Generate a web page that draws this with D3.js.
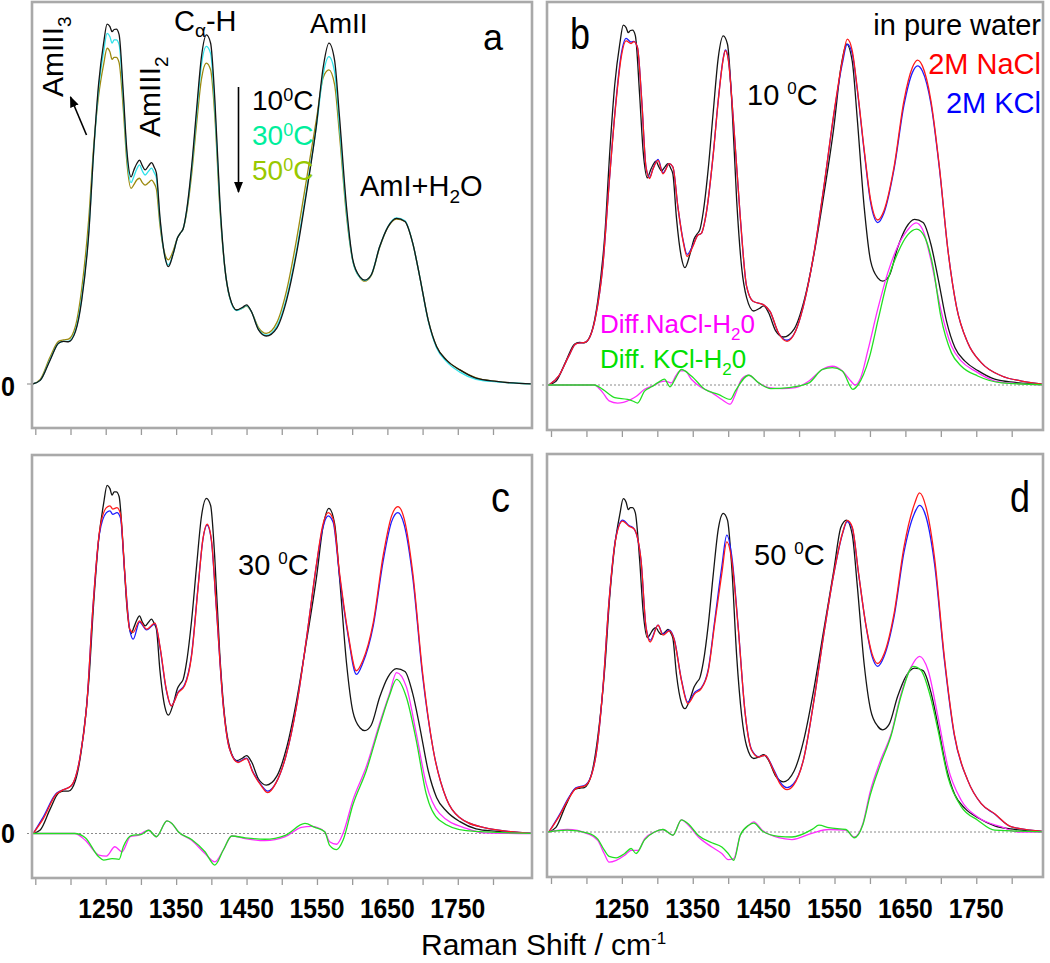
<!DOCTYPE html>
<html><head><meta charset="utf-8">
<script src="https://cdn.jsdelivr.net/npm/d3@7"></script>
<style>body{margin:0;background:#fff}svg{display:block}text{font-family:"Liberation Sans",Arial,sans-serif}</style>
</head><body><svg id="chart" width="1050" height="963"></svg>
<script>
// ---------- data ----------
const tickValues = [1150,1200,1250,1300,1350,1400,1450,1500,1550,1600,1650,1700,1750,1800];
const tickLabels = [1250,1350,1450,1550,1650,1750];

const waterWn = [1146,1157,1171,1183,1190,1197,1207,1216,1226,1233,
1240,1247,1252,1256,1259,1262,1265,1269,1275,1280,
1286,1290,1294,1298,1302,1306,1311,1315,1319,1322,
1327,1334,1339,1346,1352,1356,1360,1365,1372,1379,
1386,1393,1399,1405,1412,1419,1426,1436,1444,1450,
1457,1467,1478,1493,1507,1521,1535,1549,1559,1567,
1575,1582,1592,1601,1611,1618,1627,1639,1651,1663,
1675,1686,1696,1708,1720,1734,1753,1776,1805,1858];

const water10 = [0,0.01,0.066,0.113,0.118,0.117,0.145,0.233,0.418,0.648,
0.833,0.944,0.997,0.990,0.976,0.982,0.983,0.968,0.805,0.648,
0.574,0.593,0.610,0.620,0.605,0.593,0.605,0.613,0.600,0.584,
0.463,0.353,0.325,0.362,0.405,0.418,0.430,0.482,0.602,0.759,
0.907,0.967,0.944,0.787,0.510,0.325,0.242,0.205,0.212,0.219,
0.200,0.150,0.133,0.155,0.233,0.362,0.528,0.713,0.879,0.944,
0.897,0.740,0.490,0.343,0.297,0.288,0.302,0.380,0.436,0.459,
0.450,0.390,0.297,0.177,0.103,0.066,0.039,0.016,0.007,0];

const water30 = [0,0.01,0.068,0.113,0.118,0.118,0.148,0.24,0.425,0.645,
0.82,0.92,0.971,0.962,0.944,0.953,0.953,0.94,0.79,0.635,
0.558,0.575,0.595,0.607,0.59,0.579,0.59,0.598,0.585,0.57,
0.455,0.353,0.33,0.362,0.405,0.418,0.43,0.48,0.595,0.745,
0.885,0.935,0.915,0.765,0.5,0.325,0.24,0.203,0.21,0.217,
0.2,0.152,0.135,0.16,0.24,0.37,0.535,0.71,0.86,0.907,
0.865,0.715,0.475,0.34,0.295,0.287,0.302,0.38,0.437,0.46,
0.452,0.39,0.297,0.175,0.1,0.062,0.033,0.013,0.006,0];

const water50 = [0,0.013,0.075,0.118,0.122,0.124,0.16,0.265,0.46,0.66,
0.8,0.885,0.93,0.92,0.899,0.905,0.905,0.89,0.76,0.615,
0.542,0.552,0.565,0.57,0.558,0.551,0.558,0.565,0.555,0.54,
0.44,0.36,0.344,0.37,0.405,0.418,0.43,0.475,0.58,0.72,
0.845,0.889,0.87,0.74,0.49,0.325,0.24,0.205,0.21,0.216,
0.2,0.156,0.14,0.17,0.26,0.4,0.565,0.73,0.85,0.87,
0.83,0.69,0.465,0.34,0.295,0.285,0.3,0.378,0.435,0.457,
0.45,0.39,0.297,0.177,0.103,0.066,0.039,0.017,0.007,0];

// 10 C salt spectra [wavenumber, intensity]
const nacl10 = [[1147,0],[1161,0.025],[1175,0.08],[1185,0.114],[1199,0.119],[1213,0.19],[1223,0.328],[1232,0.558],[1241,0.769],[1249,0.907],[1256,0.953],[1263,0.946],[1267,0.951],[1272,0.935],[1278,0.788],[1284,0.604],[1289,0.572],[1294,0.599],[1301,0.622],[1308,0.585],[1317,0.613],[1322,0.604],[1329,0.494],[1336,0.402],[1342,0.356],[1350,0.383],[1357,0.415],[1362,0.42],[1369,0.475],[1379,0.641],[1386,0.788],[1393,0.903],[1396,0.926],[1400,0.903],[1407,0.742],[1417,0.466],[1426,0.273],[1435,0.232],[1450,0.222],[1459,0.204],[1471,0.144],[1483,0.121],[1495,0.149],[1506,0.218],[1521,0.365],[1535,0.549],[1549,0.751],[1561,0.898],[1568,0.958],[1575,0.926],[1582,0.824],[1592,0.65],[1601,0.512],[1611,0.457],[1620,0.484],[1634,0.604],[1648,0.788],[1660,0.88],[1667,0.9],[1674,0.884],[1686,0.788],[1698,0.604],[1710,0.374],[1722,0.218],[1738,0.117],[1757,0.062],[1786,0.025],[1814,0.011],[1858,0]];
const kcl10 = [[1147,0],[1161,0.025],[1175,0.08],[1185,0.114],[1199,0.119],[1213,0.19],[1223,0.328],[1232,0.558],[1241,0.772],[1249,0.915],[1256,0.96],[1263,0.95],[1267,0.952],[1272,0.935],[1278,0.79],[1284,0.604],[1289,0.575],[1294,0.6],[1301,0.625],[1308,0.588],[1317,0.613],[1322,0.604],[1329,0.494],[1336,0.405],[1342,0.362],[1350,0.386],[1357,0.415],[1362,0.42],[1369,0.475],[1379,0.641],[1386,0.79],[1393,0.905],[1396,0.928],[1400,0.905],[1407,0.742],[1417,0.466],[1426,0.273],[1435,0.232],[1450,0.222],[1459,0.204],[1471,0.144],[1483,0.124],[1495,0.149],[1506,0.218],[1521,0.365],[1535,0.549],[1549,0.748],[1561,0.89],[1568,0.944],[1575,0.918],[1582,0.82],[1592,0.645],[1601,0.505],[1611,0.45],[1620,0.478],[1634,0.598],[1648,0.775],[1660,0.866],[1667,0.884],[1674,0.87],[1686,0.78],[1698,0.6],[1710,0.374],[1722,0.218],[1738,0.117],[1757,0.062],[1786,0.025],[1814,0.011],[1858,0]];
const diffNacl10 = [[1145,0],[1173,0],[1211,0],[1223,-0.021],[1232,-0.044],[1244,-0.05],[1252,-0.048],[1258,-0.044],[1263,-0.04],[1270,-0.032],[1282,-0.012],[1296,0],[1304,0.008],[1310,0.011],[1320,0.006],[1326,0.025],[1332,0.039],[1339,0.039],[1348,0.016],[1362,-0.007],[1377,-0.021],[1391,-0.04],[1403,-0.053],[1410,-0.026],[1419,0.016],[1429,0.027],[1443,0.006],[1457,-0.007],[1476,-0.01],[1495,-0.007],[1514,0.011],[1533,0.043],[1547,0.052],[1561,0.039],[1573,0.011],[1579,0],[1587,0.02],[1597,0.095],[1611,0.21],[1625,0.31],[1639,0.383],[1653,0.429],[1665,0.449],[1674,0.432],[1686,0.346],[1700,0.209],[1715,0.108],[1729,0.066],[1748,0.039],[1776,0.011],[1800,0.005],[1858,0]];
const diffKcl10 = [[1145,0],[1211,0],[1223,-0.012],[1240,-0.035],[1258,-0.04],[1266,-0.045],[1272,-0.05],[1282,-0.017],[1292,-0.005],[1302,0.008],[1310,0.016],[1318,-0.005],[1326,0.02],[1334,0.043],[1348,0.025],[1367,-0.012],[1386,-0.026],[1403,-0.04],[1410,-0.017],[1429,0.027],[1443,0.006],[1460,-0.01],[1486,-0.007],[1514,0.006],[1533,0.043],[1547,0.048],[1561,0.039],[1576,-0.012],[1583,0],[1599,0.075],[1612,0.185],[1625,0.291],[1639,0.365],[1653,0.415],[1666,0.432],[1677,0.411],[1689,0.328],[1700,0.19],[1715,0.089],[1729,0.052],[1752,0.025],[1786,0.006],[1858,0]];

// 30 C
const nacl30 = [[1147,0],[1161,0.04],[1180,0.11],[1187,0.119],[1201,0.133],[1213,0.207],[1223,0.356],[1232,0.635],[1241,0.84],[1251,0.909],[1256,0.914],[1260,0.905],[1266,0.909],[1271,0.891],[1277,0.728],[1284,0.57],[1289,0.561],[1298,0.593],[1308,0.57],[1320,0.587],[1327,0.523],[1336,0.403],[1343,0.356],[1353,0.393],[1362,0.412],[1372,0.496],[1381,0.682],[1388,0.821],[1394,0.863],[1400,0.821],[1407,0.635],[1417,0.356],[1426,0.235],[1438,0.198],[1450,0.209],[1459,0.17],[1471,0.133],[1480,0.114],[1492,0.142],[1506,0.217],[1521,0.356],[1535,0.542],[1549,0.747],[1558,0.858],[1566,0.895],[1573,0.877],[1582,0.728],[1594,0.561],[1606,0.454],[1615,0.482],[1630,0.589],[1644,0.775],[1656,0.886],[1665,0.912],[1674,0.877],[1686,0.728],[1700,0.449],[1715,0.235],[1734,0.096],[1752,0.045],[1786,0.017],[1858,0]];
const kcl30 = [[1147,0],[1161,0.045],[1180,0.112],[1187,0.12],[1201,0.133],[1213,0.207],[1223,0.356],[1232,0.635],[1241,0.835],[1251,0.895],[1256,0.9],[1260,0.89],[1266,0.895],[1271,0.88],[1277,0.725],[1284,0.57],[1289,0.542],[1298,0.59],[1308,0.568],[1320,0.585],[1327,0.52],[1336,0.4],[1343,0.356],[1353,0.395],[1362,0.415],[1372,0.5],[1381,0.685],[1388,0.82],[1394,0.86],[1400,0.818],[1407,0.632],[1417,0.356],[1426,0.235],[1438,0.2],[1450,0.21],[1459,0.172],[1471,0.135],[1480,0.118],[1492,0.142],[1506,0.217],[1521,0.356],[1535,0.542],[1549,0.745],[1558,0.85],[1566,0.886],[1573,0.868],[1582,0.72],[1594,0.555],[1606,0.444],[1615,0.475],[1630,0.58],[1644,0.76],[1656,0.87],[1665,0.895],[1674,0.86],[1686,0.715],[1700,0.44],[1715,0.235],[1734,0.096],[1752,0.045],[1786,0.017],[1858,0]];
const diffNacl30 = [[1145,0],[1173,0],[1206,0],[1221,-0.019],[1240,-0.06],[1251,-0.063],[1263,-0.037],[1273,-0.051],[1285,-0.009],[1296,-0.005],[1311,0.009],[1322,-0.009],[1337,0.035],[1344,0.028],[1353,0.005],[1372,-0.019],[1391,-0.056],[1405,-0.079],[1417,-0.046],[1429,-0.007],[1448,-0.014],[1476,-0.02],[1505,-0.009],[1528,0.017],[1542,0.02],[1561,0.005],[1568,-0.023],[1578,-0.03],[1587,0],[1601,0.093],[1620,0.186],[1639,0.307],[1653,0.39],[1663,0.449],[1677,0.409],[1691,0.279],[1705,0.14],[1724,0.056],[1762,0.014],[1786,0.002],[1858,0]];
const diffKcl30 = [[1145,0],[1206,0],[1221,-0.012],[1240,-0.065],[1247,-0.074],[1259,-0.07],[1269,-0.072],[1275,-0.037],[1287,-0.005],[1300,-0.003],[1311,0.009],[1322,-0.009],[1337,0.035],[1344,0.028],[1353,0.005],[1372,-0.017],[1391,-0.051],[1405,-0.088],[1417,-0.046],[1429,-0.007],[1448,-0.012],[1476,-0.016],[1505,-0.005],[1533,0.028],[1547,0.017],[1561,0.005],[1568,-0.033],[1578,-0.045],[1587,-0.019],[1601,0.08],[1620,0.175],[1639,0.3],[1653,0.385],[1663,0.43],[1677,0.38],[1691,0.26],[1705,0.112],[1724,0.037],[1762,0.008],[1858,0]];

// 50 C
const nacl50 = [[1147,0],[1161,0.042],[1175,0.093],[1185,0.121],[1199,0.13],[1213,0.209],[1223,0.395],[1232,0.646],[1241,0.814],[1251,0.867],[1260,0.853],[1267,0.846],[1277,0.758],[1284,0.572],[1290,0.53],[1301,0.577],[1308,0.549],[1317,0.561],[1324,0.535],[1334,0.423],[1343,0.358],[1353,0.386],[1362,0.4],[1372,0.451],[1381,0.581],[1391,0.721],[1398,0.809],[1405,0.758],[1414,0.572],[1424,0.33],[1433,0.228],[1443,0.209],[1452,0.214],[1464,0.172],[1473,0.135],[1483,0.118],[1492,0.13],[1506,0.2],[1521,0.367],[1535,0.553],[1549,0.721],[1561,0.832],[1568,0.869],[1575,0.851],[1584,0.721],[1594,0.581],[1603,0.497],[1611,0.47],[1620,0.497],[1634,0.609],[1648,0.795],[1663,0.916],[1670,0.946],[1679,0.907],[1691,0.767],[1705,0.488],[1719,0.274],[1738,0.144],[1757,0.079],[1776,0.051],[1800,0.014],[1858,0]];
const kcl50 = [[1147,0],[1161,0.045],[1175,0.096],[1185,0.123],[1199,0.132],[1213,0.209],[1223,0.395],[1232,0.646],[1241,0.816],[1251,0.87],[1260,0.855],[1267,0.846],[1277,0.758],[1284,0.572],[1290,0.535],[1301,0.577],[1308,0.552],[1317,0.563],[1324,0.537],[1334,0.425],[1343,0.362],[1353,0.39],[1362,0.402],[1372,0.455],[1381,0.59],[1391,0.74],[1398,0.828],[1405,0.77],[1414,0.575],[1424,0.33],[1433,0.23],[1443,0.21],[1452,0.214],[1464,0.175],[1473,0.14],[1483,0.124],[1492,0.134],[1506,0.2],[1521,0.367],[1535,0.553],[1549,0.72],[1561,0.83],[1568,0.866],[1575,0.848],[1584,0.72],[1594,0.58],[1603,0.49],[1611,0.462],[1620,0.49],[1634,0.6],[1648,0.78],[1663,0.89],[1670,0.911],[1679,0.88],[1691,0.75],[1705,0.48],[1719,0.27],[1738,0.144],[1757,0.079],[1776,0.05],[1800,0.014],[1858,0]];
const diffNacl50 = [[1145,0],[1173,0.007],[1202,-0.005],[1216,-0.023],[1225,-0.06],[1232,-0.084],[1242,-0.079],[1254,-0.065],[1263,-0.051],[1273,-0.051],[1282,-0.019],[1296,0],[1308,0.007],[1322,-0.009],[1334,0.034],[1344,0.019],[1358,-0.014],[1377,-0.042],[1391,-0.06],[1400,-0.077],[1408,-0.074],[1417,-0.009],[1429,0.019],[1436,0.028],[1448,0.005],[1471,-0.016],[1490,-0.021],[1519,-0.003],[1542,0.007],[1566,0.005],[1578,-0.014],[1590,0.023],[1600,0.11],[1615,0.2],[1630,0.274],[1644,0.386],[1658,0.46],[1670,0.49],[1682,0.451],[1696,0.321],[1710,0.181],[1729,0.088],[1752,0.042],[1786,0.014],[1809,0],[1858,0]];
const diffKcl50 = [[1145,0],[1173,0.005],[1202,-0.003],[1216,-0.02],[1225,-0.05],[1232,-0.068],[1242,-0.072],[1254,-0.06],[1263,-0.046],[1270,-0.06],[1282,-0.022],[1296,0],[1308,0.007],[1322,-0.009],[1334,0.034],[1344,0.022],[1358,-0.01],[1377,-0.03],[1391,-0.042],[1400,-0.06],[1408,-0.079],[1417,-0.009],[1429,0.019],[1436,0.025],[1448,0.003],[1471,-0.012],[1490,-0.014],[1519,0.008],[1528,0.019],[1542,0.012],[1566,0.007],[1578,-0.016],[1590,0.02],[1600,0.1],[1615,0.19],[1630,0.27],[1644,0.38],[1661,0.462],[1672,0.451],[1685,0.38],[1696,0.284],[1710,0.153],[1729,0.07],[1752,0.033],[1776,0.005],[1858,0]];

// ---------- drawing ----------
const C = {black:"#151515", cyan:"#2fe2ea", olive:"#9c8a10", red:"#ff1a1a", blue:"#1c1cff", magenta:"#ff2cff", green:"#22e022"};
const zip = (xs, ys) => xs.map((x,i)=>[x, ys[i]]);
const w10 = zip(waterWn, water10), w30 = zip(waterWn, water30), w50 = zip(waterWn, water50);

const panels = [
  {id:"a", x:32, y:2, w:500, h:426, zero:384, k:361, r0:35.3, r1:493, dotted:false,
   curves:[[w50,C.olive],[w30,C.cyan],[w10,C.black]]},
  {id:"b", x:547, y:2, w:496, h:428, zero:385, k:361, r0:551, r1:1011.7, dotted:true,
   curves:[[w10,C.black],[kcl10,C.blue],[nacl10,C.red],[diffNacl10,C.magenta],[diffKcl10,C.green]]},
  {id:"c", x:32, y:455, w:500, h:423, zero:833.5, k:358.5, r0:35.3, r1:493, dotted:true,
   curves:[[w30,C.black],[kcl30,C.blue],[nacl30,C.red],[diffNacl30,C.magenta],[diffKcl30,C.green]]},
  {id:"d", x:547, y:454, w:496, h:423, zero:832, k:358.5, r0:551, r1:1011.7, dotted:true,
   curves:[[w50,C.black],[kcl50,C.blue],[nacl50,C.red],[diffNacl50,C.magenta],[diffKcl50,C.green]]}
];

const svg = d3.select("#chart");
const defs = svg.append("defs");
defs.append("marker").attr("id","ah").attr("viewBox","0 0 10 10").attr("refX",9).attr("refY",5)
  .attr("markerWidth",7).attr("markerHeight",7).attr("orient","auto-start-reverse")
  .append("path").attr("d","M0,1 L10,5 L0,9 z").attr("fill","#000");

panels.forEach(p => {
  const xs = d3.scaleLinear().domain([1150,1800]).range([p.r0,p.r1]);
  const ys = d3.scaleLinear().domain([0,1]).range([p.zero, p.zero - p.k]);
  p.xs = xs; p.ys = ys;
  const g = svg.append("g");
  defs.append("clipPath").attr("id","clip"+p.id).append("rect")
    .attr("x",p.x).attr("y",p.y).attr("width",p.w).attr("height",p.h);
  g.append("g").attr("transform",`translate(0,${p.y+p.h})`)
    .call(d3.axisBottom(xs).tickValues(tickValues).tickSize(7).tickFormat(""))
    .call(a=>{a.select(".domain").remove(); a.selectAll("line").attr("stroke","#9a9a9a").attr("stroke-width",1.3);});
  if (p.dotted) {
    g.append("line").attr("x1",p.x-5).attr("x2",p.x+p.w).attr("y1",ys(0)).attr("y2",ys(0))
      .attr("stroke","#8a8a8a").attr("stroke-width",1).attr("stroke-dasharray","2,2");
  } else {
    g.append("line").attr("x1",p.x-5).attr("x2",p.x).attr("y1",ys(0)).attr("y2",ys(0))
      .attr("stroke","#9a9a9a").attr("stroke-width",1.2);
  }
  const line = d3.line().x(d=>xs(d[0])).y(d=>ys(d[1])).curve(d3.curveMonotoneX);
  const cg = g.append("g").attr("clip-path",`url(#clip${p.id})`);
  p.curves.forEach(([data,col]) => {
    cg.append("path").datum(data).attr("d",line).attr("fill","none")
      .attr("stroke",col).attr("stroke-width",1.3).attr("stroke-linejoin","round");
  });
  g.append("rect").attr("x",p.x).attr("y",p.y).attr("width",p.w).attr("height",p.h)
    .attr("fill","none").attr("stroke","#a9a9a9").attr("stroke-width",2.6);
});

[panels[2], panels[3]].forEach(p => {
  svg.append("g").selectAll("text").data(tickLabels).join("text")
    .attr("x",d=>p.xs(d)).attr("y",918).attr("text-anchor","middle")
    .attr("font-size",28).attr("font-weight","bold").attr("textLength",55)
    .attr("lengthAdjust","spacingAndGlyphs").text(d=>d);
});
[[panels[0],396],[panels[2],843]].forEach(([p,yy]) => {
  svg.append("text").attr("x",1).attr("y",yy).attr("font-size",28).attr("font-weight","bold")
    .attr("textLength",14).attr("lengthAdjust","spacingAndGlyphs").text("0");
});

function rich(x, y, parts, opts={}) {
  const t = svg.append("text").attr("x",x).attr("y",y)
    .attr("font-size",opts.size||29).attr("fill",opts.fill||"#000");
  if (opts.anchor) t.attr("text-anchor",opts.anchor);
  if (opts.rotate) t.attr("transform",`rotate(${opts.rotate},${x},${y})`);
  let shift = 0;
  parts.forEach(([s,kind]) => {
    const sp = t.append("tspan").text(s);
    let target = 0, fs = null;
    if (kind==="sub") {target = opts.subDy||8; fs = opts.subSize||19;}
    if (kind==="sup") {target = -(opts.supDy||11); fs = opts.supSize||18;}
    sp.attr("dy", target - shift); shift = target;
    if (fs) sp.attr("font-size",fs);
  });
  return t;
}

// panel a annotations
rich(63,97,[["AmIII"],["3","sub"]],{size:30,rotate:-90});
rich(160,137,[["AmIII"],["2","sub"]],{size:30,rotate:-90});
rich(174,31,[["C"],["α","sub"],["-H"]],{size:29,subDy:6,subSize:19});
rich(310,33,[["AmII"]],{size:28});
rich(360,196,[["AmI+H"],["2","sub"],["O"]],{size:29,subDy:7});
rich(252,110,[["10"],["0","sup"],["C"]],{size:28,supDy:9,supSize:18});
rich(252,145,[["30"],["0","sup"],["C"]],{size:28,supDy:9,supSize:18,fill:"#00ee9c"});
rich(252,180,[["50"],["0","sup"],["C"]],{size:28,supDy:9,supSize:18,fill:"#99c800"});
svg.append("line").attr("x1",238.5).attr("y1",87).attr("x2",238.5).attr("y2",192)
  .attr("stroke","#000").attr("stroke-width",1.6).attr("marker-end","url(#ah)");
svg.append("line").attr("x1",86.5).attr("y1",135).attr("x2",70.5).attr("y2",97)
  .attr("stroke","#000").attr("stroke-width",1.6).attr("marker-end","url(#ah)");

// panel letters
svg.append("text").attr("x",483).attr("y",50).attr("font-size",37).attr("textLength",20).attr("lengthAdjust","spacingAndGlyphs").text("a");
svg.append("text").attr("x",570).attr("y",49).attr("font-size",45).attr("textLength",20).attr("lengthAdjust","spacingAndGlyphs").text("b");
svg.append("text").attr("x",491).attr("y",512).attr("font-size",42).attr("textLength",19).attr("lengthAdjust","spacingAndGlyphs").text("c");
svg.append("text").attr("x",1010).attr("y",512).attr("font-size",44).attr("textLength",20).attr("lengthAdjust","spacingAndGlyphs").text("d");

// panel b legend
rich(1041,35,[["in pure water"]],{size:29,anchor:"end"});
rich(1041,74,[["2M NaCl"]],{size:29,anchor:"end",fill:"#ff0000"});
rich(1041,113,[["2M KCl"]],{size:29,anchor:"end",fill:"#0000ff"});
rich(747,105,[["10 "],["0","sup"],["C"]],{size:29,supDy:11,supSize:17});
rich(600,333,[["Diff.NaCl-H"],["2","sub"],["0"]],{size:26,fill:"#ff00ff",subDy:7,subSize:17});
rich(600,368,[["Diff. KCl-H"],["2","sub"],["0"]],{size:26,fill:"#00e000",subDy:7,subSize:17});
rich(238,575,[["30 "],["0","sup"],["C"]],{size:29,supDy:11,supSize:17});
rich(754,565,[["50 "],["0","sup"],["C"]],{size:29,supDy:11,supSize:17});

// x axis title
rich(421,955,[["Raman Shift / cm"],["-1","sup"]],{size:30,supDy:11,supSize:17});
</script></body></html>
